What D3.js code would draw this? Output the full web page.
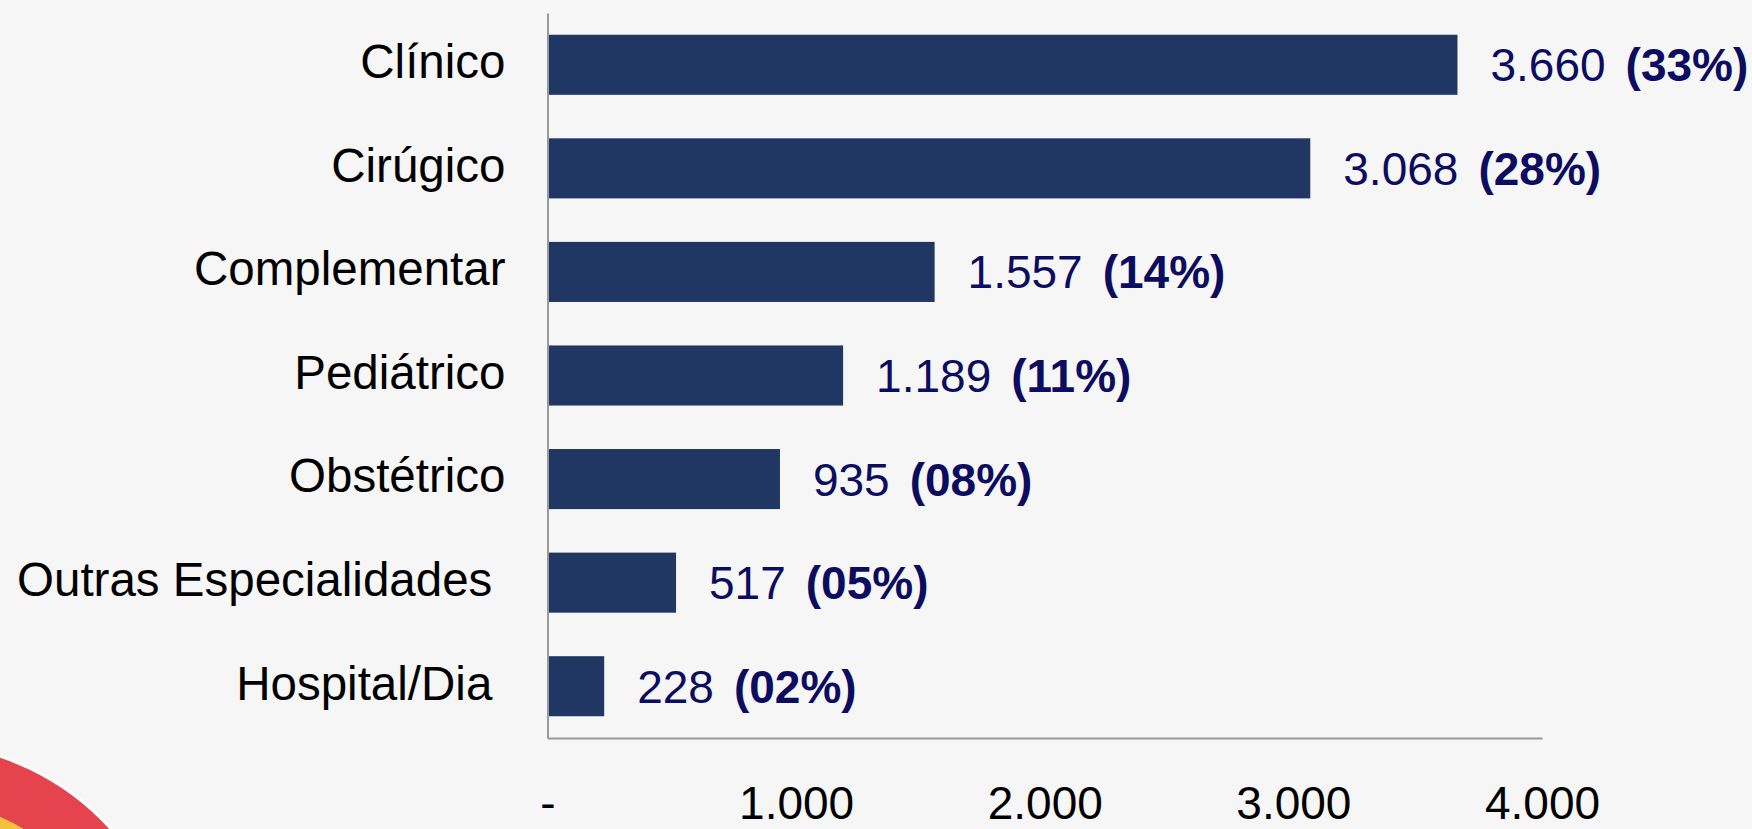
<!DOCTYPE html>
<html>
<head>
<meta charset="utf-8">
<script src="https://cdn.jsdelivr.net/npm/d3@7"></script>
<style>
  html, body { margin: 0; padding: 0; background: #f6f6f6; overflow: hidden; }
  svg { display: block; font-family: "Liberation Sans", Arial, sans-serif; }
  .y-axis text { white-space: pre; }
</style>
</head>
<body>
<svg id="chart"></svg>
<script>
// data (two labels carry a trailing space, as in the source)
var categories = ["Clínico", "Cirúgico", "Complementar", "Pediátrico", "Obstétrico", "Outras Especialidades ", "Hospital/Dia "];
var values = [3660, 3068, 1557, 1189, 935, 517, 228];
var percents = ["(33%)", "(28%)", "(14%)", "(11%)", "(08%)", "(05%)", "(02%)"];
var xTicks = [0, 1000, 2000, 3000, 4000];

var width = 1752,
    height = 829;

var svg = d3.select("#chart")
    .attr("width", width)
    .attr("height", height);

// brazilian number format, 3.660 etc
var locale = d3.formatLocale({ decimal: ",", thousands: ".", grouping: [3], currency: ["R$ ", ""] });
var fmt = locale.format(",d");

//decoration in the bottom left corner
var deco = svg.append("g").attr("class", "deco");
deco.append("circle")
    .attr("cx", -80).attr("cy", 1000).attr("r", 258)
    .attr("fill", "#ffffff").attr("opacity", 0.8);
deco.append("circle")
    .attr("cx", -80).attr("cy", 1000).attr("r", 255)
    .attr("fill", "#e5434e");
deco.append("circle")
    .attr("cx", -80).attr("cy", 1000).attr("r", 200)
    .attr("fill", "#f4c03e");

//scales
var x = d3.scaleLinear()
    .domain([0, 4000])
    .range([547.5, 1542]);

var y = d3.scaleBand()
    .domain(categories)
    .range([13, 738])
    .paddingInner(0.42)
    .paddingOuter(0.21);

//bars
svg.append("g")
    .attr("class", "bars")
    .selectAll("rect")
    .data(values)
    .enter()
    .append("rect")
    .attr("x", x(0))
    .attr("y", function(d, i) { return y(categories[i]); })
    .attr("width", function(d) { return x(d) - x(0); })
    .attr("height", y.bandwidth())
    .attr("fill", "#213763");

//category axis
var yAxis = svg.append("g")
    .attr("class", "y-axis")
    .attr("transform", "translate(" + x(0) + ",0)")
    .call(d3.axisLeft(y).tickSize(0).tickPadding(42));

yAxis.select(".domain").attr("stroke", "#9a9a9a").attr("stroke-width", 2);
yAxis.selectAll("text")
    .attr("font-size", 47.5)
    .attr("font-family", "'Liberation Sans', Arial, sans-serif")
    .attr("fill", "#000")
    .attr("dy", "0.28em");

//value axis
var xAxis = svg.append("g")
    .attr("class", "x-axis")
    .attr("transform", "translate(0," + y.range()[1] + ")")
    .call(d3.axisBottom(x)
        .tickValues(xTicks)
        .tickSize(0)
        .tickPadding(48)
        .tickFormat(function(d) { return d === 0 ? "-" : fmt(d); }));

xAxis.select(".domain").attr("stroke", "#9a9a9a").attr("stroke-width", 2);
xAxis.selectAll("text")
    .attr("font-size", 46)
    .attr("font-family", "'Liberation Sans', Arial, sans-serif")
    .attr("fill", "#000");

//value labels with percentage
var labels = svg.append("g")
    .attr("class", "labels")
    .selectAll("text")
    .data(values)
    .enter()
    .append("text")
    .attr("x", function(d) { return x(d) + 33; })
    .attr("y", function(d, i) { return y(categories[i]) + y.bandwidth() / 2; })
    .attr("dy", "0.36em")
    .attr("font-size", 46)
    .attr("fill", "#0c0c60");

labels.append("tspan")
    .text(function(d) { return fmt(d); });

labels.append("tspan")
    .attr("dx", 20)
    .attr("font-weight", "bold")
    .text(function(d, i) { return percents[i]; });
</script>
</body>
</html>
